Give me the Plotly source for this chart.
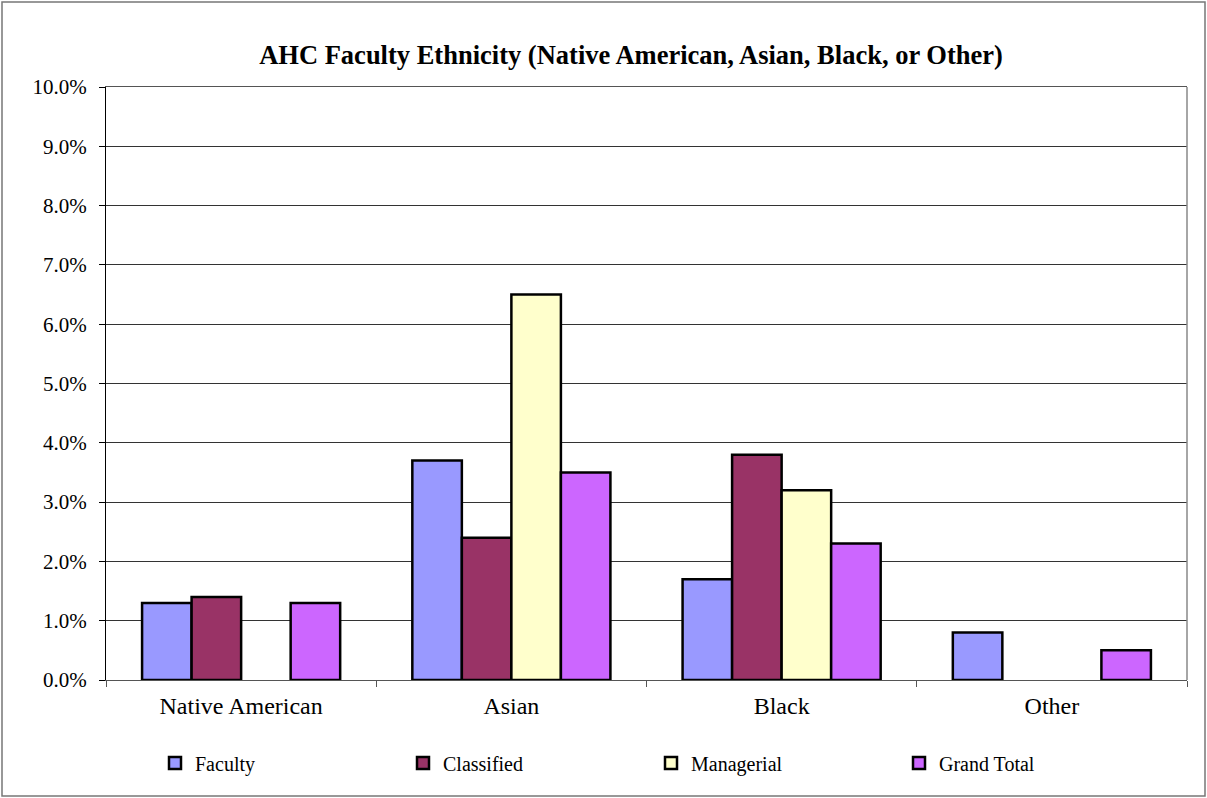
import plotly.graph_objects as go

categories = ["Native American", "Asian", "Black", "Other"]
faculty = [0.013, 0.037, 0.017, 0.008]
classified = [0.014, 0.024, 0.038, None]
managerial = [None, 0.065, 0.032, None]
grand_total = [0.013, 0.035, 0.023, 0.005]

series_names = ["Faculty", "Classified", "Managerial", "Grand Total"]
series_values = [faculty, classified, managerial, grand_total]
colors = ["#9999FF", "#993366", "#FFFFCC", "#CC66FF"]
y_ticks = [i / 100 for i in range(0, 11)]

FONT = "Liberation Serif, Times New Roman, serif"

fig = go.Figure()
for name, vals, col in zip(series_names, series_values, colors):
    fig.add_trace(go.Bar(
        x=categories, y=vals, name=name,
        marker=dict(color=col, line=dict(color="black", width=2.5)),
    ))

W, H = 1207, 798
L, R, T, B = 106, 20, 87, 118
pw = W - L - R
ph = H - T - B

fig.update_layout(
    width=W, height=H,
    margin=dict(l=L, r=R, t=T, b=B),
    barmode="group", bargap=0.267, bargroupgap=0,
    plot_bgcolor="white", paper_bgcolor="white",
    font=dict(family=FONT, color="black"),
    title=dict(
        text="<b>AHC Faculty Ethnicity (Native American, Asian, Black, or Other)</b>",
        x=(631 - L) / pw, xref="paper", xanchor="center",
        y=1 - 55 / H, yref="container", yanchor="middle",
        font=dict(family=FONT, size=26.5, color="black"),
    ),
    xaxis=dict(
        showline=True, linecolor="#555", linewidth=1, mirror=True,
        ticks="outside", tickson="boundaries", ticklen=6, tickcolor="#555",
        tickfont=dict(family=FONT, size=24, color="black"),
        ticklabelstandoff=4,
        showgrid=False,
    ),
    yaxis=dict(
        range=[0, 0.1], tickvals=y_ticks, tickformat=".1%",
        showline=True, linecolor="black", linewidth=1, mirror=False,
        ticks="outside", ticklen=6, tickcolor="black",
        tickfont=dict(family=FONT, size=21, color="black"),
        ticklabelstandoff=8,
        showgrid=True, gridcolor="#333", gridwidth=1,
        zeroline=False,
    ),
    legend=dict(
        orientation="h", x=(155 - L) / pw, xanchor="left",
        y=-(763 - (T + ph)) / ph, yanchor="middle",
        entrywidth=203, entrywidthmode="pixels",
        font=dict(family=FONT, size=20, color="black"),
        itemwidth=30, traceorder="normal",
    ),
    shapes=[
        dict(type="rect", xref="paper", yref="paper",
             x0=(2 - L) / pw, x1=(1205 - L) / pw,
             y0=-(796 - (T + ph)) / ph, y1=(T + ph - 2) / ph,
             line=dict(color="#777", width=1.5), layer="below"),
        dict(type="line", xref="paper", yref="paper",
             x0=1, x1=1, y0=0, y1=1,
             line=dict(color="#888", width=1.5)),
    ],
)

fig.write_html(
    "out.html",
    config={"displayModeBar": False},
    post_script="document.body.style.margin='0';document.body.style.overflow='hidden';",
)
